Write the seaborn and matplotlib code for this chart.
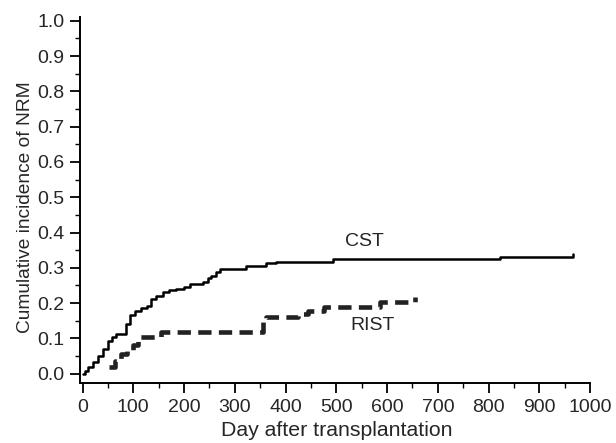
import numpy as np
import pandas as pd
import matplotlib
matplotlib.use('Agg')
import matplotlib.pyplot as plt
import seaborn as sns
from matplotlib.ticker import MultipleLocator

# CST: conventional stem-cell transplantation
cst_day = [0, 4, 10, 20, 30, 40, 50, 58, 66, 80, 86, 93, 103, 115, 126, 135, 145,
           158, 170, 185, 200, 211, 237, 247, 254, 262, 270, 323, 362, 382, 494, 823, 967]
cst_nrm = [0.0, 0.009, 0.02, 0.033, 0.05, 0.07, 0.094, 0.103, 0.113, 0.113, 0.14, 0.165,
           0.179, 0.187, 0.193, 0.212, 0.22, 0.231, 0.236, 0.24, 0.247, 0.254, 0.259,
           0.27, 0.278, 0.288, 0.298, 0.306, 0.313, 0.317, 0.325, 0.33, 0.338]

# RIST: reduced-intensity stem-cell transplantation
rist_day = [53, 64, 76, 88, 99, 109, 155, 356, 362, 425, 445, 476, 587, 655]
rist_nrm = [0.019, 0.037, 0.056, 0.068, 0.08, 0.103, 0.118, 0.146, 0.16, 0.168,
            0.178, 0.19, 0.204, 0.218]

sns.set_style('ticks')
plt.rcParams['font.family'] = ['Liberation Sans', 'DejaVu Sans']

cst = pd.DataFrame({'day': cst_day, 'nrm': cst_nrm})
rist = pd.DataFrame({'day': rist_day, 'nrm': rist_nrm})

fig = plt.figure(figsize=(6.16, 4.43), dpi=100)
ax = fig.add_axes([0.1299, 0.1365, 0.828, 0.8245])

sns.lineplot(data=cst, x='day', y='nrm', ax=ax, color='black', linewidth=1.8,
             drawstyle='steps-post', estimator=None, sort=False)
sns.lineplot(data=rist, x='day', y='nrm', ax=ax, color='#222222', linewidth=3.3,
             drawstyle='steps-post', estimator=None, sort=False,
             linestyle=(0, (2.9, 1.6)), dash_capstyle='butt')

ax.set_xlim(-5, 1000)
ax.set_ylim(-0.025, 1.01)
ax.xaxis.set_major_locator(MultipleLocator(100))
ax.xaxis.set_minor_locator(MultipleLocator(50))
ax.yaxis.set_major_locator(MultipleLocator(0.1))
ax.yaxis.set_minor_locator(MultipleLocator(0.05))
ax.yaxis.set_major_formatter(matplotlib.ticker.FormatStrFormatter('%.1f'))

for s in ['top', 'right']:
    ax.spines[s].set_visible(False)
for s in ['left', 'bottom']:
    ax.spines[s].set_linewidth(1.4)
    ax.spines[s].set_color('black')

fs = 14
ax.tick_params(which='major', length=7, width=1.3, labelsize=fs, color='black', pad=4)
ax.tick_params(which='minor', length=3.5, width=1.0, color='black')
ax.tick_params(axis='x', which='major', pad=5)

ax.set_xlabel('Day after transplantation', fontsize=15.3)
ax.xaxis.set_label_coords(0.504, -0.104)
ax.set_ylabel('Cumulative incidence of NRM', fontsize=13.8,
              family=['Liberation Sans Narrow', 'Liberation Sans', 'DejaVu Sans'])
ax.yaxis.set_label_coords(-0.09, 0.48)

ax.text(556, 0.376, 'CST', fontsize=fs, ha='center', va='center')
ax.text(572, 0.138, 'RIST', fontsize=fs, ha='center', va='center')

fig.savefig('out.png', dpi=100)
